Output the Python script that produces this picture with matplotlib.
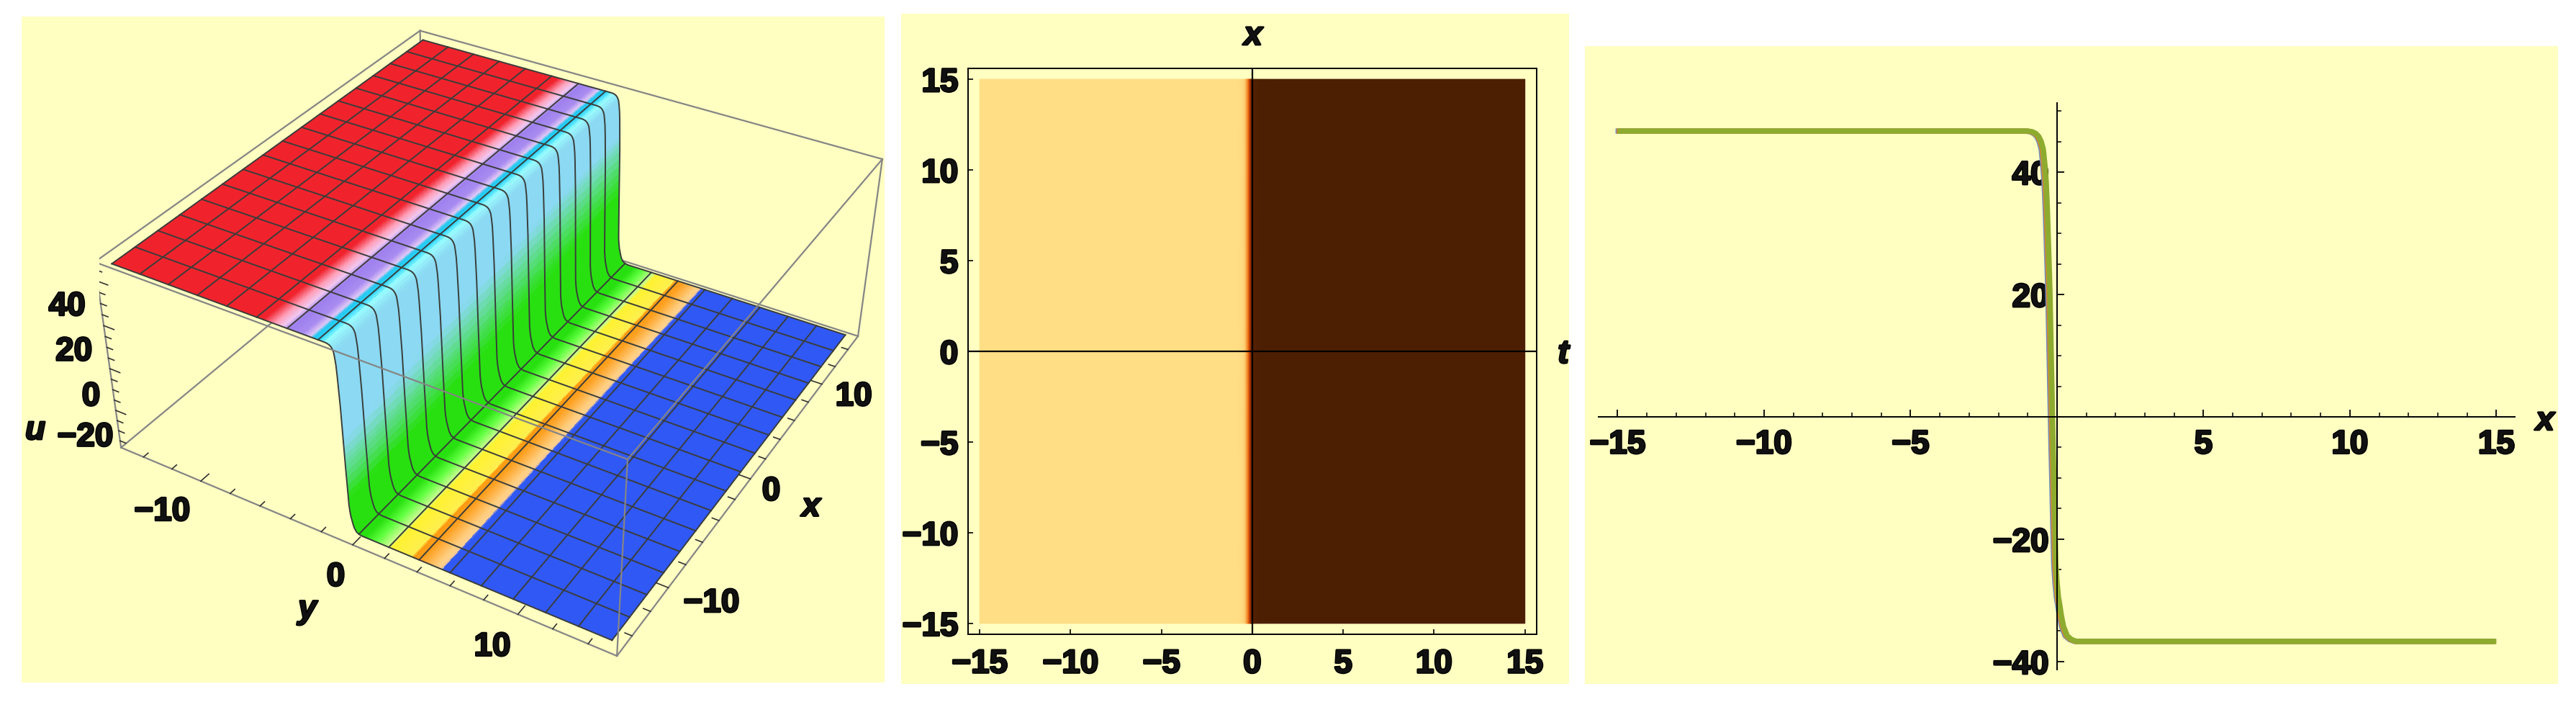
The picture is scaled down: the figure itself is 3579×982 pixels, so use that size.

import numpy as np
import matplotlib
matplotlib.use('Agg')
import matplotlib.pyplot as plt
import matplotlib.patheffects as pe
from matplotlib.colors import LinearSegmentedColormap, to_rgb
from matplotlib.patches import Rectangle
from matplotlib.ticker import MultipleLocator

W, H = 3579, 982
plt.rcParams['font.family'] = ['Liberation Sans', 'DejaVu Sans']
plt.rcParams['font.weight'] = 'bold'
plt.rcParams['font.size'] = 33

# step profile
t_profile = [-1.0, -0.85, -0.72, -0.62, -0.54, -0.47, -0.42, -0.37, -0.35, -0.33, -0.315, -0.3, -0.285, -0.27,
             -0.255, -0.24, -0.225, -0.21, -0.195, -0.18, -0.165, -0.15, -0.14, -0.13, -0.115, -0.1, -0.085,
             -0.07, -0.055, -0.04, -0.02, 0.0, 0.05, 0.09, 0.15, 0.22, 0.35, 0.5, 0.67]
u_profile = [46.7, 46.6, 46.3, 45.8, 45.0, 43.8, 41.5, 38.5, 36.3, 34.0, 31.7, 29.5, 27.2, 25.0,
             22.6, 20.2, 16.6, 13.0, 9.5, 6.0, 2.5, -1.0, -3.3, -5.6, -8.5, -11.5, -14.8,
             -18.0, -21.0, -24.0, -25.5, -27.0, -29.5, -30.6, -32.5, -34.2, -35.8, -36.4, -36.7]
t_line = [-15.0] + t_profile + [15.0]
u_line = [46.7] + u_profile + [-36.7]

# the 3D step sits a bit left of the 2D one, plateaus are flat
y_shift = -0.5
u_high = 46.7
u_low = -36.7
y_top = [-15, -12, -9] + list(np.arange(-7.0, -1.6, 0.08))
y_low = list(np.arange(0.3, 8.8, 0.08)) + [10, 12.5, 15]
x_mesh = [-15 + 1.875 * k for k in range(17)]
y_mesh = [-15 + 1.875 * k for k in range(17)]

# colour along the surface
color_stops = [(-20, '#F0232D'), (-5.2, '#F0232D'), (-4.5, '#FF9FB8'), (-4.0, '#F0C8F0'), (-3.6, '#9E7FEE'),
               (-2.8, '#A98CF0'), (-2.35, '#E0C8F5'), (-2.15, '#20C8F0'), (-1.8, '#2FD5FF'), (-1.45, '#9CFFFF'),
               (-0.95, '#8BD9F2'), (0.2, '#8BD9F2'), (1.5, '#28E010'), (3.5, '#28E010'), (4.2, '#60FF40'),
               (4.9, '#C8FF90'), (5.15, '#FFF230'), (6.4, '#FFEF50'), (6.5, '#FF9A10'), (7.0, '#FFA020'),
               (7.9, '#FFCE80'), (8.2, '#FFD090'), (8.3, '#3058F5'), (20, '#3058F5')]
heat_stops = [(0.0, '#4D1F02'), (0.1, '#5A2000'), (0.3, '#A83205'), (0.55, '#E8650F'), (0.8, '#F8A040'),
              (1.0, '#FFDE85')]

bg = '#FFFFC2'
ink = '#111111'
box_c = '#858585'
mesh_c = '#3A3D3A'
stroke = [pe.withStroke(linewidth=2.0, foreground='black')]


def rect(x0, y0, x1, y1):
    # pixel box, y measured from the top
    return [x0 / W, 1 - y1 / H, (x1 - x0) / W, (y1 - y0) / H]


def label(px, py, s, **kw):
    fig.text(px / W, 1 - py / H, s, ha='center', va='center', color=ink, path_effects=stroke, **kw)


def zl(zx, zy):
    # reference crop position of the left panel to pixels
    return zx * 1240 / 1568, zy * 982 / 1568


fig = plt.figure(figsize=(W / 100, H / 100), dpi=100, facecolor='white')
for box in [(30, 23, 1229, 948), (1252, 19, 2180, 950), (2202, 64, 3554, 950)]:
    fig.add_artist(Rectangle((box[0] / W, 1 - box[3] / H), (box[2] - box[0]) / W, (box[3] - box[1]) / H,
                             transform=fig.transFigure, facecolor=bg, edgecolor='none', zorder=-5))

# ---- left panel, surface
ax1 = fig.add_axes([137.9 / W, -1.7 / H, 1099 / W, 1099 / H], projection='3d')
ax1.patch.set_visible(False)
ax1.set_axis_off()
ax1.set_xlim(-15.6, 15.6)
ax1.set_ylim(15.6, -15.6)
ax1.set_zlim(-38.4, 48.4)
ax1.view_init(34.66, 210.43, -0.37)
ax1.set_proj_type('persp', focal_length=0.441)
ax1.set_box_aspect((1, 1, 0.3967))
ax1.computed_zorder = False

y_surf = np.array(y_top + [t + y_shift for t in t_profile] + y_low)
u_surf = np.array([u_high] * len(y_top) + u_profile + [u_low] * len(y_low))
x_surf = np.linspace(-15, 15, 33)
X, Y = np.meshgrid(x_surf, y_surf)
Z = np.tile(u_surf[:, None], (1, len(x_surf)))
f = (u_high - Z) / (u_high - u_low)
s = Y + 3.0 * f + X * ((1 - f) * -0.002 + f * -0.008 + 0.16 * f * (1 - f))
stops_s = [a for a, _ in color_stops]
stops_c = np.array([to_rgb(c) for _, c in color_stops])
fc = np.dstack([np.interp(s, stops_s, stops_c[:, i]) for i in range(3)])
# back edges first, they end up behind the surface
xa, xb, ya, yb, za, zb = -15.6, 15.6, -15.6, 15.6, -38.4, 48.4
back = [((xa, ya, za), (xb, ya, za)), ((xb, ya, za), (xb, yb, za)), ((xb, ya, za), (xb, ya, zb)),
        ((xa, ya, zb), (xb, ya, zb)), ((xb, ya, zb), (xb, yb, zb)), ((xa, ya, za), (xa, ya, zb)),
        ((xb, yb, za), (xb, yb, zb)), ((xa, ya, za), (xa, yb, za)), ((xa, yb, za), (xb, yb, za))]
front = [((xa, ya, zb), (xa, yb, zb)), ((xa, yb, zb), (xb, yb, zb)), ((xa, yb, za), (xa, yb, zb))]
for a, b in back:
    ax1.plot(*zip(a, b), color=box_c, lw=1.6, zorder=1)
ax1.plot_surface(X, Y, Z, rstride=1, cstride=1, facecolors=fc, shade=False, linewidth=0, antialiased=False, zorder=2)
for xv in x_mesh:
    ax1.plot([xv] * len(y_surf), y_surf, u_surf, color=mesh_c, lw=1.4, zorder=3)
for yv in y_mesh:
    uv = np.interp(yv, y_surf, u_surf)
    ax1.plot([-15, 15], [yv, yv], [uv, uv], color=mesh_c, lw=1.4, zorder=3)
for a, b in front:
    ax1.plot(*zip(a, b), color=box_c, lw=1.6, zorder=4)
# ticks drawn along the bottom edges
for v in range(-14, 16, 2):
    n = 0.7 if v % 10 == 0 else 0.4
    ax1.plot([xa, xa + n], [v, v], [za, za], color='#333333', lw=1.2, zorder=1)
    ax1.plot([v, v], [yb, yb - n], [za, za], color='#333333', lw=1.2, zorder=4)
for v in range(-35, 50, 5):
    n = 0.7 if v % 20 == 0 else 0.4
    ax1.plot([xa, xa], [ya, ya + n], [v, v], color='#333333', lw=1.2, zorder=1)

for zx, zy, txt in [(118, 680, '40'), (130, 780, '20'), (160, 880, '0'), (150, 970, '\u221220'),
                    (285, 1135, '\u221210'), (590, 1280, '0'), (865, 1435, '10'),
                    (1250, 1338, '\u221210'), (1355, 1090, '0'), (1500, 880, '10')]:
    label(*zl(zx, zy), txt)
for zx, zy, txt in [(62, 955, 'u'), (540, 1352, 'y'), (1425, 1125, 'x')]:
    label(*zl(zx, zy), txt, style='italic')

# ---- middle panel, density
ax2 = fig.add_axes(rect(1345.3, 95, 2134.6, 881), facecolor=bg)
cmap = LinearSegmentedColormap.from_list('heat', heat_stops)
U = np.array([u_line, u_line])
ax2.pcolormesh(t_line, [-15, 15], U, cmap=cmap, shading='gouraud', vmin=-36.7, vmax=46.7)
ax2.set_xlim(-15.63, 15.63)
ax2.set_ylim(-15.6, 15.6)
ax2.axhline(0, color='black', lw=1.6)
ax2.axvline(0, color='black', lw=1.6)
ticks = [-15, -10, -5, 0, 5, 10, 15]
ax2.set_xticks(ticks)
ax2.set_yticks(ticks)
ax2.set_xticklabels(['\u2212' + str(-v) if v < 0 else str(v) for v in ticks], path_effects=stroke, color=ink)
ax2.set_yticklabels(['\u2212' + str(-v) if v < 0 else str(v) for v in ticks], path_effects=stroke, color=ink)
ax2.tick_params(direction='in', length=5, width=1.2, pad=14, top=False, right=False)
ax2.tick_params(axis='y', pad=10)
for sp in ax2.spines.values():
    sp.set_linewidth(1.4)
label(1741, 50, 'x', style='italic')
label(2172, 492, 't', style='italic')

# ---- right panel, cross sections
ax3 = fig.add_axes(rect(2221, 143, 3494, 930))
ax3.patch.set_visible(False)
ax3.plot(np.array(t_line) - 0.07, u_line, color='#6C8FC4', lw=5.4, solid_capstyle='butt')
ax3.plot(np.array(t_line) - 0.035, u_line, color='#D9852F', lw=5.4, solid_capstyle='butt')
ax3.plot(t_line, u_line, color='#8DAB2F', lw=5.4, solid_capstyle='butt', solid_joinstyle='round')
ax3.set_xlim(-15.65, 15.63)
ax3.set_ylim(-41.3, 51.3)
for side in ['top', 'right']:
    ax3.spines[side].set_visible(False)
ax3.spines['left'].set_position(('data', 0))
ax3.spines['bottom'].set_position(('data', 0))
ax3.set_xticks([-15, -10, -5, 5, 10, 15])
ax3.set_xticklabels(['\u221215', '\u221210', '\u22125', '5', '10', '15'], path_effects=stroke, color=ink)
ax3.set_yticks([-40, -20, 20, 40])
ax3.set_yticklabels(['\u221240', '\u221220', '20', '40'], path_effects=stroke, color=ink)
ax3.xaxis.set_minor_locator(MultipleLocator(1))
ax3.yaxis.set_minor_locator(MultipleLocator(5))
ax3.tick_params(which='major', direction='in', length=7, width=1.3)
ax3.tick_params(which='minor', direction='in', length=4, width=1.1)
ax3.tick_params(axis='x', which='major', pad=12)
ax3.tick_params(axis='y', which='major', pad=8)
for sp in ax3.spines.values():
    sp.set_linewidth(1.4)
label(3536, 585, 'x', style='italic')

fig.savefig('out.png', dpi=100)
